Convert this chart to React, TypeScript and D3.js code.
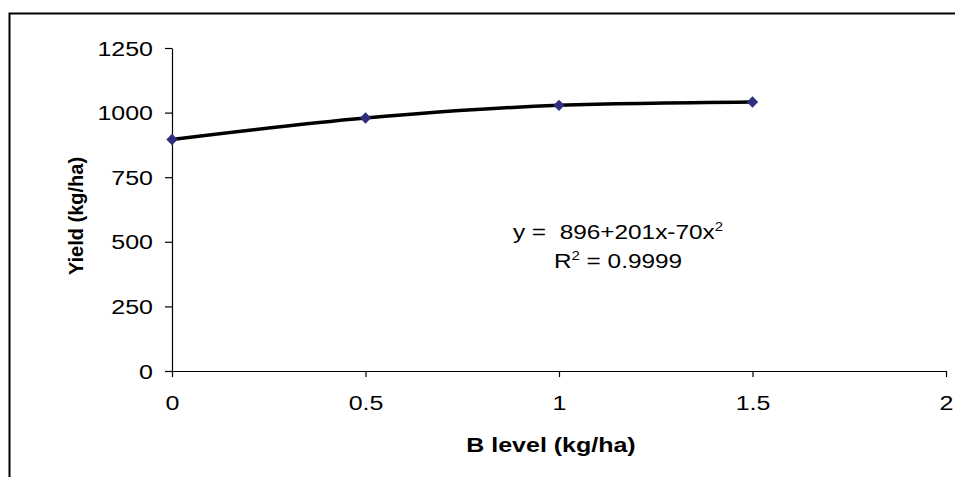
import React, { useEffect, useRef } from "react";
import * as d3 from "d3";

// data
const bLevels = [0, 0.5, 1, 1.5];
const yields = [896, 979, 1028, 1041];
const xTicks = [0, 0.5, 1, 1.5, 2];
const yTicks = [0, 250, 500, 750, 1000, 1250];
const xTitle = "B level (kg/ha)";
const yTitle = "Yield (kg/ha)";
const eqMain = "y =  896+201x-70x";
const r2Value = " = 0.9999";

const FONT = "'Liberation Sans', Arial, sans-serif";
const SX = 1.25; // text in the picture is stretched sideways

const App = () => {
  const svgRef = useRef<SVGSVGElement>(null);

  useEffect(() => {
    const dims = { width: 955, height: 477, left: 172, right: 946, top: 48, bottom: 371 };

    const svg = d3.select(svgRef.current);
    svg.selectAll("*").remove();
    svg.attr("width", dims.width).attr("height", dims.height);

    // outer frame (only left and top visible)
    svg.append("path")
      .attr("d", `M9.5,${dims.height} V13.5 H${dims.width}`)
      .attr("fill", "none")
      .attr("stroke", "#000")
      .attr("stroke-width", 2);

    const xScale = d3.scaleLinear().domain([0, 2]).range([dims.left, dims.right]);
    const yScale = d3.scaleLinear().domain([0, 1250]).range([dims.bottom, dims.top]);

    // axes
    const yAxis = d3.axisLeft(yScale).tickValues(yTicks).tickSize(7).tickSizeOuter(0)
      .tickFormat((d) => `${d}`);
    const gy = svg.append("g").attr("transform", `translate(${dims.left},0)`).call(yAxis);

    const xAxis = d3.axisBottom(xScale).tickValues(xTicks).tickSize(6).tickSizeOuter(0)
      .tickFormat((d) => `${d}`);
    const gx = svg.append("g").attr("transform", `translate(0,${dims.bottom})`).call(xAxis);

    [gx, gy].forEach((g) => {
      g.select(".domain").attr("stroke", "#000").attr("stroke-width", 1.2);
      g.selectAll(".tick line").attr("stroke", "#000").attr("stroke-width", 1.2);
      g.selectAll(".tick text")
        .attr("fill", "#000")
        .style("font-family", FONT)
        .style("font-size", "20px");
    });
    gy.selectAll(".tick text")
      .attr("x", -19 / SX)
      .attr("dy", "0.35em")
      .attr("transform", `scale(${SX},1)`);
    gx.selectAll(".tick text")
      .attr("y", 39)
      .attr("dy", 0)
      .attr("transform", `scale(${SX},1)`);

    // trend curve through the points
    const line = d3.line<number>()
      .x((d, i) => xScale(bLevels[i]))
      .y((d) => yScale(d))
      .curve(d3.curveMonotoneX);

    svg.append("path")
      .datum(yields)
      .attr("d", line)
      .attr("fill", "none")
      .attr("stroke", "#000")
      .attr("stroke-width", 3.5);

    // diamond markers
    svg.selectAll(".marker")
      .data(yields)
      .join("path")
      .attr("class", "marker")
      .attr("d", d3.symbol().type(d3.symbolDiamond2).size(82))
      .attr("transform", (d, i) => `translate(${xScale(bLevels[i])},${yScale(d)})`)
      .attr("fill", "#2f2f80");

    // axis titles
    svg.append("text")
      .attr("transform", `translate(551,452) scale(${SX},1)`)
      .attr("text-anchor", "middle")
      .style("font-family", FONT)
      .style("font-size", "20px")
      .style("font-weight", "bold")
      .text(xTitle);

    svg.append("text")
      .attr("transform", `translate(83,216) rotate(-90)`)
      .attr("text-anchor", "middle")
      .style("font-family", FONT)
      .style("font-size", "20px")
      .style("font-weight", "bold")
      .text(yTitle);

    // regression equation
    const eq = svg.append("text")
      .attr("transform", `translate(618,239) scale(${SX},1)`)
      .attr("text-anchor", "middle")
      .style("font-family", FONT)
      .style("font-size", "19.5px")
      .style("white-space", "pre");
    eq.append("tspan").text(eqMain);
    eq.append("tspan").attr("dy", -8).style("font-size", "12px").text("2");

    const r2 = svg.append("text")
      .attr("transform", `translate(618,268) scale(${SX},1)`)
      .attr("text-anchor", "middle")
      .style("font-family", FONT)
      .style("font-size", "19.5px")
      .style("white-space", "pre");
    r2.append("tspan").text("R");
    r2.append("tspan").attr("dy", -8).style("font-size", "12px").text("2");
    r2.append("tspan").attr("dy", 8).text(r2Value);
  }, []);

  return (
    <svg ref={svgRef} style={{ position: "absolute", left: 0, top: 0, background: "#fff" }}></svg>
  );
};

export default App;
